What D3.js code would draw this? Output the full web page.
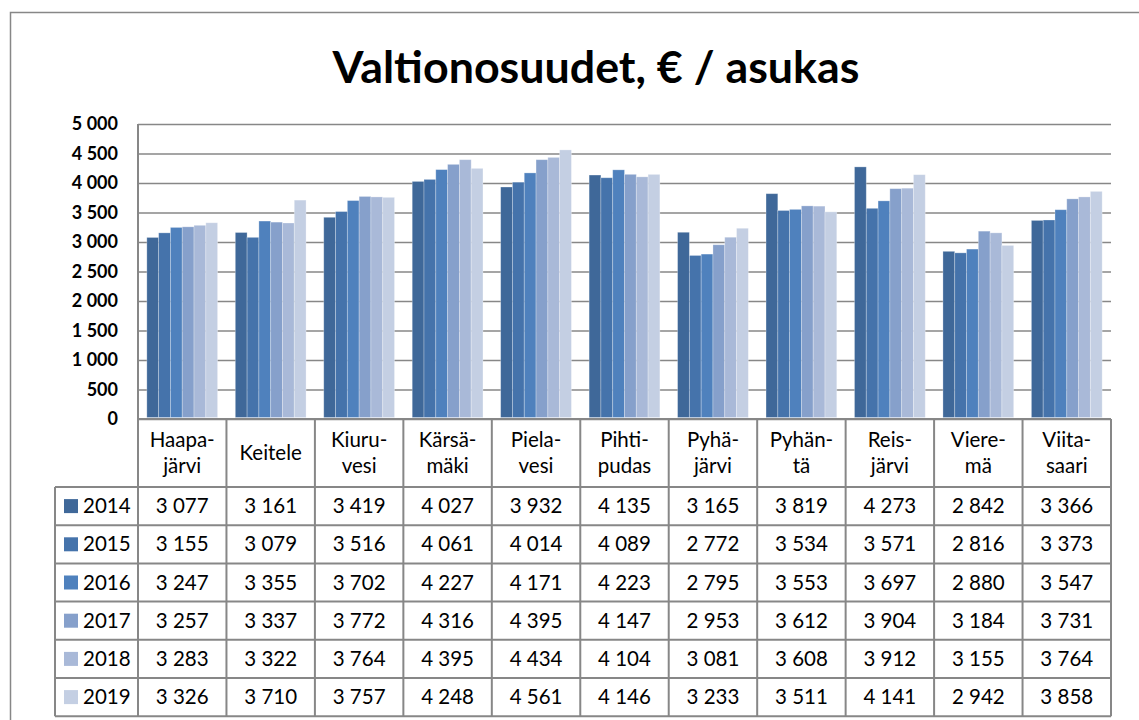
<!DOCTYPE html>
<html>
<head>
<meta charset="utf-8">
<script src="https://cdn.jsdelivr.net/npm/d3@7"></script>
<style>
  body { margin: 0; background: #fff; }
  text { font-family: Lato, "Open Sans", sans-serif; fill: #000; }
</style>
</head>
<body>
<script>
const municipalities = ['Haapa-järvi', 'Keitele', 'Kiuru-vesi', 'Kärsä-mäki', 'Piela-vesi', 'Pihti-pudas',
                        'Pyhä-järvi', 'Pyhän-tä', 'Reis-järvi', 'Viere-mä', 'Viita-saari'];
const years = ['2014', '2015', '2016', '2017', '2018', '2019'];
const v2014 = [3077, 3161, 3419, 4027, 3932, 4135, 3165, 3819, 4273, 2842, 3366];
const v2015 = [3155, 3079, 3516, 4061, 4014, 4089, 2772, 3534, 3571, 2816, 3373];
const v2016 = [3247, 3355, 3702, 4227, 4171, 4223, 2795, 3553, 3697, 2880, 3547];
const v2017 = [3257, 3337, 3772, 4316, 4395, 4147, 2953, 3612, 3904, 3184, 3731];
const v2018 = [3283, 3322, 3764, 4395, 4434, 4104, 3081, 3608, 3912, 3155, 3764];
const v2019 = [3326, 3710, 3757, 4248, 4561, 4146, 3233, 3511, 4141, 2942, 3858];
const yTicks = [0, 500, 1000, 1500, 2000, 2500, 3000, 3500, 4000, 4500, 5000];
const colors = ['#3f6899', '#4573ab', '#4f81bd', '#86a0cb', '#a9b9d8', '#c4cfe3'];

const series = [v2014, v2015, v2016, v2017, v2018, v2019];

const w = 1139;
const h = 720;
const pLeft = 138, pRight = 1111, pTop = 124, pBottom = 419;
const tableLeft = 55, headerBottom = 487, rowH = 38.2;
const lineColor = '#878787';

const fi = d3.formatLocale({decimal: ',', thousands: ' ', grouping: [3], currency: ['', '€']});
const fmt = fi.format(',d');

const svg = d3.select('body')
              .append('svg')
              .attr('width', w)
              .attr('height', h)

// outer chart border
svg.append('path')
   .attr('d', `M10.5,${h} V12.5 H${w}`)
   .attr('fill', 'none')
   .attr('stroke', lineColor)
   .attr('stroke-width', 1.5)

// title, fitted to the reference width
const title = svg.append('text')
                 .attr('x', 596)
                 .attr('y', 83)
                 .attr('text-anchor', 'middle')
                 .style('font-weight', 'bold')
                 .style('font-size', '44px')
                 .text('Valtionosuudet, € / asukas')
const tw = title.node().getComputedTextLength();
title.style('font-size', (44 * 527 / tw) + 'px')

const x0 = d3.scaleBand()
             .domain(municipalities)
             .range([pLeft, pRight])
             .paddingInner(0.2)
             .paddingOuter(0.1)
const x1 = d3.scaleBand()
             .domain(years)
             .range([0, x0.bandwidth()])
const y = d3.scaleLinear()
            .domain([0, 5000])
            .range([pBottom, pTop])

// gridlines
const grid = svg.append('g')
                .attr('transform', `translate(${pLeft},0)`)
                .call(d3.axisLeft(y).tickValues(yTicks).tickSize(-(pRight - pLeft)).tickFormat(''))
grid.select('.domain').remove()
grid.selectAll('line').attr('stroke', lineColor).attr('stroke-width', 1.5)

// y labels
const yAxis = svg.append('g')
                 .attr('transform', `translate(118,0)`)
                 .call(d3.axisLeft(y).tickValues(yTicks).tickSize(0).tickPadding(0).tickFormat(fmt))
yAxis.select('.domain').remove()
yAxis.selectAll('text')
     .style('font-size', '18px')
     .style('font-weight', 'bold')
     .style('font-family', 'Lato, sans-serif')
     .attr('fill', '#000')

// bars
const groups = svg.append('g')
                  .selectAll('g')
                  .data(municipalities)
                  .enter()
                  .append('g')
                  .attr('transform', d => `translate(${x0(d)},0)`)
groups.selectAll('rect')
      .data((d, i) => years.map((yr, j) => ({yr, j, v: series[j][i]})))
      .enter()
      .append('rect')
      .attr('x', d => x1(d.yr))
      .attr('y', d => y(d.v))
      .attr('width', x1.bandwidth())
      .attr('height', d => y(0) - y(d.v) - 1.5)
      .attr('fill', d => colors[d.j])
      .attr('stroke', '#fff')
      .attr('stroke-opacity', 0.35)
      .attr('stroke-width', 0.8)

// data table
const tableBottom = headerBottom + rowH * years.length;
const step = x0.step();
const t = svg.append('g')
             .attr('fill', 'none')
             .attr('stroke', lineColor)
             .attr('stroke-width', 2)

// horizontal lines
t.append('line').attr('x1', pLeft).attr('x2', pRight).attr('y1', pBottom).attr('y2', pBottom)
d3.range(years.length + 1).forEach(i => {
  t.append('line')
   .attr('x1', tableLeft).attr('x2', pRight)
   .attr('y1', headerBottom + i * rowH).attr('y2', headerBottom + i * rowH)
})
// vertical lines
t.append('line').attr('x1', pLeft).attr('x2', pLeft).attr('y1', pTop).attr('y2', tableBottom)
t.append('line').attr('x1', tableLeft).attr('x2', tableLeft).attr('y1', headerBottom).attr('y2', tableBottom)
municipalities.forEach((m, i) => {
  const xx = pLeft + step * (i + 1);
  t.append('line').attr('x1', xx).attr('x2', xx).attr('y1', pBottom).attr('y2', tableBottom)
})

// header labels
const header = svg.append('g')
municipalities.forEach(m => {
  const parts = m.split(/(?<=-)/);
  const cx = x0(m) + x0.bandwidth() / 2;
  const mid = (pBottom + headerBottom) / 2 + 7;
  const txt = header.append('text')
                    .attr('text-anchor', 'middle')
                    .style('font-size', '20.5px')
  parts.forEach((p, k) => {
    txt.append('tspan')
       .attr('x', cx)
       .attr('y', mid + (k - (parts.length - 1) / 2) * 26)
       .text(p)
  })
})

// rows
years.forEach((yr, j) => {
  const cy = headerBottom + j * rowH + rowH / 2;
  svg.append('rect')
     .attr('x', 64).attr('y', cy - 7)
     .attr('width', 14).attr('height', 14)
     .attr('fill', colors[j])
  svg.append('text')
     .attr('x', 83).attr('y', cy + 7)
     .style('font-size', '20.5px')
     .text(yr)
  municipalities.forEach((m, i) => {
    svg.append('text')
       .attr('x', x0(m) + x0.bandwidth() / 2)
       .attr('y', cy + 7)
       .attr('text-anchor', 'middle')
       .style('font-size', '20.5px')
       .text(fmt(series[j][i]))
  })
})
</script>
</body>
</html>
